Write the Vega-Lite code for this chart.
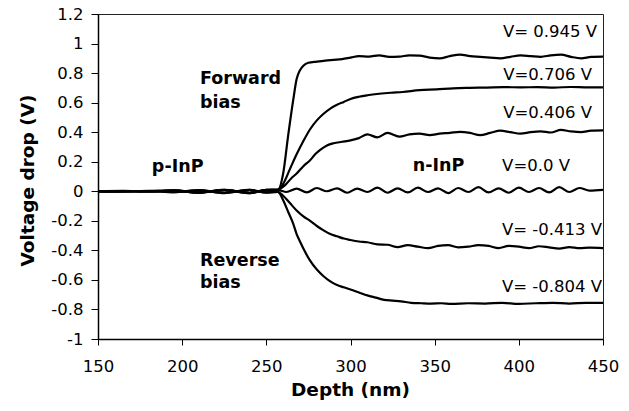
{
  "$schema": "https://vega.github.io/schema/vega-lite/v6.json",
  "width": 505,
  "height": 325,
  "autosize": {"type": "none"},
  "padding": {"left": 98, "top": 14, "right": 26, "bottom": 72},
  "background": "white",
  "config": {
    "view": {"stroke": "#222", "strokeWidth": 1},
    "font": "DejaVu Sans"
  },
  "datasets": {
    "curves": [
      {"series":"0.945","depth":150,"v":0},{"series":"0.945","depth":165,"v":0},{"series":"0.945","depth":180,"v":0.002},{"series":"0.945","depth":195,"v":0.006},{"series":"0.945","depth":210,"v":-0.01},{"series":"0.945","depth":225,"v":0.01},{"series":"0.945","depth":240,"v":-0.012},{"series":"0.945","depth":250,"v":0.01},{"series":"0.945","depth":257,"v":0.012},{"series":"0.945","depth":260,"v":0.12},{"series":"0.945","depth":263,"v":0.38},{"series":"0.945","depth":266,"v":0.62},{"series":"0.945","depth":268,"v":0.76},{"series":"0.945","depth":270,"v":0.82},{"series":"0.945","depth":272,"v":0.85},{"series":"0.945","depth":275,"v":0.87},{"series":"0.945","depth":280,"v":0.878},{"series":"0.945","depth":285,"v":0.885},{"series":"0.945","depth":290,"v":0.89},{"series":"0.945","depth":295,"v":0.895},{"series":"0.945","depth":300,"v":0.905},{"series":"0.945","depth":305,"v":0.915},{"series":"0.945","depth":311,"v":0.912},{"series":"0.945","depth":317,"v":0.92},{"series":"0.945","depth":323,"v":0.91},{"series":"0.945","depth":329,"v":0.912},{"series":"0.945","depth":335,"v":0.92},{"series":"0.945","depth":341,"v":0.918},{"series":"0.945","depth":347,"v":0.905},{"series":"0.945","depth":353,"v":0.9},{"series":"0.945","depth":359,"v":0.915},{"series":"0.945","depth":365,"v":0.925},{"series":"0.945","depth":371,"v":0.915},{"series":"0.945","depth":377,"v":0.91},{"series":"0.945","depth":383,"v":0.905},{"series":"0.945","depth":389,"v":0.9},{"series":"0.945","depth":395,"v":0.91},{"series":"0.945","depth":401,"v":0.92},{"series":"0.945","depth":407,"v":0.915},{"series":"0.945","depth":413,"v":0.91},{"series":"0.945","depth":419,"v":0.92},{"series":"0.945","depth":425,"v":0.925},{"series":"0.945","depth":431,"v":0.91},{"series":"0.945","depth":437,"v":0.9},{"series":"0.945","depth":443,"v":0.91},{"series":"0.945","depth":450,"v":0.912},

      {"series":"0.706","depth":150,"v":0},{"series":"0.706","depth":165,"v":0.002},{"series":"0.706","depth":180,"v":0},{"series":"0.706","depth":195,"v":0.004},{"series":"0.706","depth":210,"v":-0.008},{"series":"0.706","depth":225,"v":0.008},{"series":"0.706","depth":240,"v":-0.01},{"series":"0.706","depth":250,"v":0.008},{"series":"0.706","depth":257,"v":0.01},{"series":"0.706","depth":260,"v":0.05},{"series":"0.706","depth":264,"v":0.15},{"series":"0.706","depth":268,"v":0.25},{"series":"0.706","depth":272,"v":0.34},{"series":"0.706","depth":276,"v":0.42},{"series":"0.706","depth":280,"v":0.48},{"series":"0.706","depth":284,"v":0.525},{"series":"0.706","depth":288,"v":0.56},{"series":"0.706","depth":292,"v":0.585},{"series":"0.706","depth":296,"v":0.605},{"series":"0.706","depth":300,"v":0.625},{"series":"0.706","depth":305,"v":0.64},{"series":"0.706","depth":310,"v":0.65},{"series":"0.706","depth":317,"v":0.66},{"series":"0.706","depth":324,"v":0.667},{"series":"0.706","depth":331,"v":0.672},{"series":"0.706","depth":341,"v":0.685},{"series":"0.706","depth":351,"v":0.69},{"series":"0.706","depth":361,"v":0.697},{"series":"0.706","depth":371,"v":0.7},{"series":"0.706","depth":381,"v":0.702},{"series":"0.706","depth":391,"v":0.705},{"series":"0.706","depth":401,"v":0.703},{"series":"0.706","depth":411,"v":0.705},{"series":"0.706","depth":421,"v":0.702},{"series":"0.706","depth":431,"v":0.706},{"series":"0.706","depth":441,"v":0.703},{"series":"0.706","depth":450,"v":0.703},

      {"series":"0.406","depth":150,"v":0},{"series":"0.406","depth":165,"v":-0.002},{"series":"0.406","depth":180,"v":0.003},{"series":"0.406","depth":195,"v":-0.006},{"series":"0.406","depth":210,"v":0.008},{"series":"0.406","depth":225,"v":-0.012},{"series":"0.406","depth":240,"v":0.01},{"series":"0.406","depth":250,"v":-0.008},{"series":"0.406","depth":257,"v":0.01},{"series":"0.406","depth":261,"v":0.04},{"series":"0.406","depth":265,"v":0.09},{"series":"0.406","depth":268,"v":0.12},{"series":"0.406","depth":272,"v":0.17},{"series":"0.406","depth":276,"v":0.21},{"series":"0.406","depth":279,"v":0.25},{"series":"0.406","depth":282,"v":0.28},{"series":"0.406","depth":286,"v":0.31},{"series":"0.406","depth":290,"v":0.325},{"series":"0.406","depth":295,"v":0.335},{"series":"0.406","depth":300,"v":0.345},{"series":"0.406","depth":305,"v":0.36},{"series":"0.406","depth":310,"v":0.385},{"series":"0.406","depth":316,"v":0.365},{"series":"0.406","depth":322,"v":0.395},{"series":"0.406","depth":329,"v":0.37},{"series":"0.406","depth":335,"v":0.385},{"series":"0.406","depth":341,"v":0.39},{"series":"0.406","depth":347,"v":0.38},{"series":"0.406","depth":353,"v":0.39},{"series":"0.406","depth":359,"v":0.395},{"series":"0.406","depth":365,"v":0.402},{"series":"0.406","depth":371,"v":0.395},{"series":"0.406","depth":377,"v":0.38},{"series":"0.406","depth":383,"v":0.395},{"series":"0.406","depth":389,"v":0.41},{"series":"0.406","depth":395,"v":0.4},{"series":"0.406","depth":401,"v":0.39},{"series":"0.406","depth":407,"v":0.4},{"series":"0.406","depth":413,"v":0.405},{"series":"0.406","depth":419,"v":0.398},{"series":"0.406","depth":425,"v":0.415},{"series":"0.406","depth":431,"v":0.405},{"series":"0.406","depth":437,"v":0.4},{"series":"0.406","depth":443,"v":0.41},{"series":"0.406","depth":450,"v":0.412},

      {"series":"0.0","depth":150,"v":0},{"series":"0.0","depth":165,"v":0.003},{"series":"0.0","depth":180,"v":-0.002},{"series":"0.0","depth":195,"v":0.006},{"series":"0.0","depth":210,"v":-0.006},{"series":"0.0","depth":225,"v":0.01},{"series":"0.0","depth":240,"v":-0.01},{"series":"0.0","depth":250,"v":0.01},{"series":"0.0","depth":257,"v":0.008},{"series":"0.0","depth":262,"v":-0.005},{"series":"0.0","depth":268,"v":0.018},{"series":"0.0","depth":274,"v":-0.008},{"series":"0.0","depth":280,"v":0.022},{"series":"0.0","depth":286,"v":0.0},{"series":"0.0","depth":292,"v":0.02},{"series":"0.0","depth":298,"v":-0.01},{"series":"0.0","depth":304,"v":0.018},{"series":"0.0","depth":310,"v":-0.005},{"series":"0.0","depth":316,"v":0.025},{"series":"0.0","depth":322,"v":-0.01},{"series":"0.0","depth":328,"v":0.02},{"series":"0.0","depth":334,"v":-0.008},{"series":"0.0","depth":340,"v":0.025},{"series":"0.0","depth":346,"v":-0.005},{"series":"0.0","depth":352,"v":0.02},{"series":"0.0","depth":358,"v":-0.012},{"series":"0.0","depth":364,"v":0.022},{"series":"0.0","depth":370,"v":-0.005},{"series":"0.0","depth":376,"v":0.028},{"series":"0.0","depth":382,"v":-0.008},{"series":"0.0","depth":388,"v":0.02},{"series":"0.0","depth":394,"v":-0.01},{"series":"0.0","depth":400,"v":0.025},{"series":"0.0","depth":406,"v":-0.005},{"series":"0.0","depth":412,"v":0.022},{"series":"0.0","depth":418,"v":-0.008},{"series":"0.0","depth":424,"v":0.028},{"series":"0.0","depth":430,"v":-0.005},{"series":"0.0","depth":436,"v":0.022},{"series":"0.0","depth":442,"v":0.005},{"series":"0.0","depth":450,"v":0.01},

      {"series":"-0.413","depth":150,"v":0},{"series":"-0.413","depth":165,"v":-0.002},{"series":"-0.413","depth":180,"v":0.002},{"series":"-0.413","depth":195,"v":-0.006},{"series":"-0.413","depth":210,"v":0.006},{"series":"-0.413","depth":225,"v":-0.01},{"series":"-0.413","depth":240,"v":0.01},{"series":"-0.413","depth":250,"v":-0.01},{"series":"-0.413","depth":257,"v":-0.005},{"series":"-0.413","depth":260,"v":-0.03},{"series":"-0.413","depth":264,"v":-0.08},{"series":"-0.413","depth":268,"v":-0.13},{"series":"-0.413","depth":272,"v":-0.17},{"series":"-0.413","depth":276,"v":-0.2},{"series":"-0.413","depth":280,"v":-0.235},{"series":"-0.413","depth":284,"v":-0.265},{"series":"-0.413","depth":288,"v":-0.29},{"series":"-0.413","depth":292,"v":-0.305},{"series":"-0.413","depth":296,"v":-0.32},{"series":"-0.413","depth":300,"v":-0.33},{"series":"-0.413","depth":305,"v":-0.34},{"series":"-0.413","depth":310,"v":-0.345},{"series":"-0.413","depth":316,"v":-0.36},{"series":"-0.413","depth":322,"v":-0.362},{"series":"-0.413","depth":328,"v":-0.378},{"series":"-0.413","depth":334,"v":-0.365},{"series":"-0.413","depth":340,"v":-0.375},{"series":"-0.413","depth":346,"v":-0.385},{"series":"-0.413","depth":352,"v":-0.37},{"series":"-0.413","depth":358,"v":-0.365},{"series":"-0.413","depth":364,"v":-0.38},{"series":"-0.413","depth":370,"v":-0.375},{"series":"-0.413","depth":376,"v":-0.365},{"series":"-0.413","depth":382,"v":-0.37},{"series":"-0.413","depth":388,"v":-0.385},{"series":"-0.413","depth":394,"v":-0.37},{"series":"-0.413","depth":400,"v":-0.375},{"series":"-0.413","depth":406,"v":-0.385},{"series":"-0.413","depth":412,"v":-0.372},{"series":"-0.413","depth":418,"v":-0.38},{"series":"-0.413","depth":424,"v":-0.388},{"series":"-0.413","depth":430,"v":-0.378},{"series":"-0.413","depth":436,"v":-0.385},{"series":"-0.413","depth":442,"v":-0.382},{"series":"-0.413","depth":450,"v":-0.385},

      {"series":"-0.804","depth":150,"v":0},{"series":"-0.804","depth":165,"v":0.002},{"series":"-0.804","depth":180,"v":-0.003},{"series":"-0.804","depth":195,"v":0.004},{"series":"-0.804","depth":210,"v":-0.01},{"series":"-0.804","depth":225,"v":0.008},{"series":"-0.804","depth":240,"v":-0.012},{"series":"-0.804","depth":250,"v":0.006},{"series":"-0.804","depth":257,"v":-0.005},{"series":"-0.804","depth":260,"v":-0.06},{"series":"-0.804","depth":263,"v":-0.14},{"series":"-0.804","depth":266,"v":-0.22},{"series":"-0.804","depth":268,"v":-0.29},{"series":"-0.804","depth":270,"v":-0.34},{"series":"-0.804","depth":273,"v":-0.41},{"series":"-0.804","depth":276,"v":-0.47},{"series":"-0.804","depth":280,"v":-0.53},{"series":"-0.804","depth":284,"v":-0.575},{"series":"-0.804","depth":288,"v":-0.61},{"series":"-0.804","depth":292,"v":-0.635},{"series":"-0.804","depth":296,"v":-0.65},{"series":"-0.804","depth":300,"v":-0.665},{"series":"-0.804","depth":305,"v":-0.685},{"series":"-0.804","depth":310,"v":-0.705},{"series":"-0.804","depth":315,"v":-0.72},{"series":"-0.804","depth":320,"v":-0.735},{"series":"-0.804","depth":325,"v":-0.74},{"series":"-0.804","depth":330,"v":-0.745},{"series":"-0.804","depth":336,"v":-0.755},{"series":"-0.804","depth":342,"v":-0.758},{"series":"-0.804","depth":348,"v":-0.76},{"series":"-0.804","depth":354,"v":-0.758},{"series":"-0.804","depth":360,"v":-0.762},{"series":"-0.804","depth":370,"v":-0.758},{"series":"-0.804","depth":380,"v":-0.76},{"series":"-0.804","depth":390,"v":-0.755},{"series":"-0.804","depth":400,"v":-0.762},{"series":"-0.804","depth":410,"v":-0.758},{"series":"-0.804","depth":420,"v":-0.755},{"series":"-0.804","depth":430,"v":-0.76},{"series":"-0.804","depth":440,"v":-0.755},{"series":"-0.804","depth":450,"v":-0.755}
    ],
    "boldText": [
      {"depth": 210.6, "v": 0.76, "label": "Forward"},
      {"depth": 210.6, "v": 0.60, "label": "bias"},
      {"depth": 182, "v": 0.163, "label": "p-InP"},
      {"depth": 337, "v": 0.17, "label": "n-InP"},
      {"depth": 210.6, "v": -0.474, "label": "Reverse"},
      {"depth": 210.6, "v": -0.62, "label": "bias"}
    ],
    "voltText": [
      {"depth": 446.5, "v": 1.077, "label": "V= 0.945 V"},
      {"depth": 443.5, "v": 0.786, "label": "V=0.706 V"},
      {"depth": 443.5, "v": 0.528, "label": "V=0.406 V"},
      {"depth": 430.4, "v": 0.17, "label": "V=0.0 V"},
      {"depth": 449.4, "v": -0.264, "label": "V= -0.413 V"},
      {"depth": 449.4, "v": -0.65, "label": "V= -0.804 V"}
    ]
  },
  "encoding": {
    "x": {
      "field": "depth", "type": "quantitative",
      "scale": {"domain": [150, 450], "nice": false, "zero": false},
      "axis": {
        "title": "Depth (nm)",
        "values": [150, 200, 250, 300, 350, 400, 450],
        "grid": false, "labelOverlap": false,
        "domainColor": "black", "domainWidth": 1.5,
        "tickColor": "black", "tickSize": 6, "tickWidth": 1,
        "labelFont": "DejaVu Sans", "labelFontSize": 16.5, "labelColor": "black",
        "labelPadding": 13, "labelBaseline": "top", "labelFlush": false,
        "titleFont": "DejaVu Sans", "titleFontSize": 18.5, "titleFontWeight": "bold", "titleColor": "black",
        "titleX": 252, "titleY": 50, "titleBaseline": "middle", "titleAlign": "center"
      }
    },
    "y": {
      "field": "v", "type": "quantitative",
      "scale": {"domain": [-1, 1.2], "nice": false, "zero": false},
      "axis": {
        "title": "Voltage drop (V)",
        "values": [-1, -0.8, -0.6, -0.4, -0.2, 0, 0.2, 0.4, 0.6, 0.8, 1, 1.2],
        "labelExpr": "'' + round(datum.value * 10) / 10",
        "grid": false, "labelOverlap": false,
        "domainColor": "black", "domainWidth": 1.5,
        "tickColor": "black", "tickSize": 7, "tickWidth": 1,
        "labelFont": "DejaVu Sans", "labelFontSize": 16.5, "labelColor": "black",
        "labelPadding": 8, "labelFlush": false,
        "titleFont": "DejaVu Sans", "titleFontSize": 18.5, "titleFontWeight": "bold", "titleColor": "black",
        "titleX": -71, "titleY": 166, "titleAngle": -90, "titleBaseline": "middle", "titleAlign": "center"
      }
    }
  },
  "layer": [
    {
      "data": {"name": "curves"},
      "mark": {"type": "line", "color": "black", "strokeWidth": 2.2, "interpolate": "monotone"},
      "encoding": {
        "detail": {"field": "series", "type": "nominal"}
      }
    },
    {
      "data": {"name": "boldText"},
      "mark": {"type": "text", "font": "DejaVu Sans", "fontSize": 17.5, "fontWeight": "bold", "align": "left", "baseline": "middle", "color": "black"},
      "encoding": {
        "text": {"field": "label"}
      }
    },
    {
      "data": {"name": "voltText"},
      "mark": {"type": "text", "font": "DejaVu Sans", "fontSize": 16.5, "align": "right", "baseline": "middle", "color": "black"},
      "encoding": {
        "text": {"field": "label"}
      }
    }
  ]
}
